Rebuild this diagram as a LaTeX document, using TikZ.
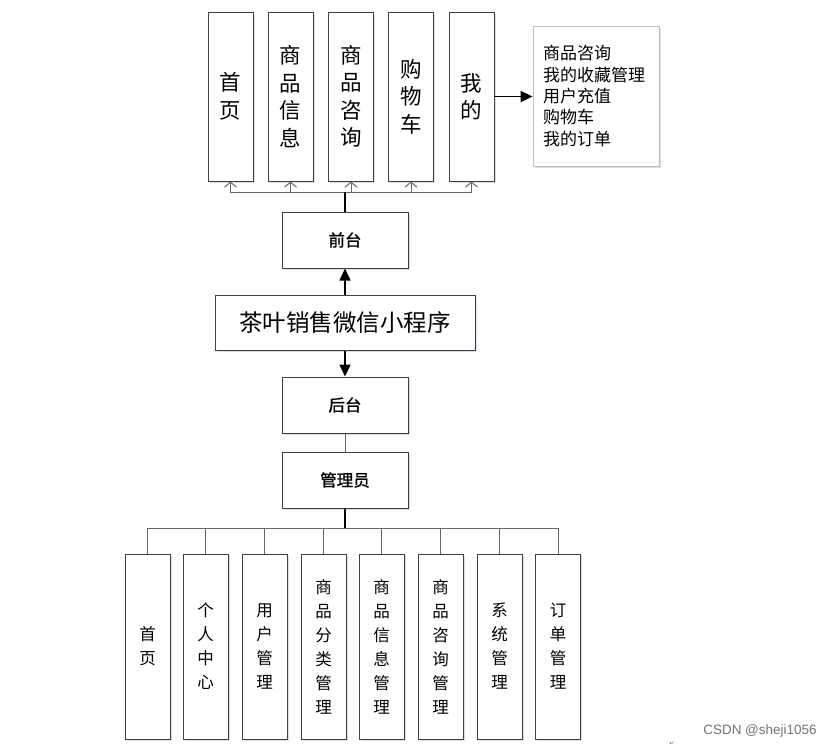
\documentclass[tikz,border=0pt]{standalone}
\usepackage{fontspec}
\usepackage{tikz}
\usetikzlibrary{arrows.meta,shadows}
\setmainfont{Liberation Sans}
\newfontfamily\cjk{Noto Sans CJK SC}
\newfontfamily\cjkb{Noto Sans CJK SC}[FakeBold=1.2]
\newfontfamily\symfont{DejaVu Sans}

\begin{document}
\begin{tikzpicture}[x=1pt, y=-1pt, every node/.style={font=\cjk},
	>={Triangle[length=12pt,width=11pt]},
	box/.style={draw=black!75, line width=1pt, fill=white, drop shadow={shadow xshift=1.5pt, shadow yshift=-1.5pt, fill=blue!40!gray, opacity=0.2}},
	topcol/.style={box, minimum width=45pt, minimum height=169pt, inner sep=0pt, align=center, font=\cjk\fontsize{21.5}{27.5}\selectfont},
	botcol/.style={box, minimum width=45pt, minimum height=185pt, inner sep=0pt, align=center, font=\cjk\fontsize{16.5}{24}\selectfont},
	label/.style={box, minimum width=126pt, minimum height=56pt, font=\cjkb\fontsize{16.5}{20}\selectfont},
	graylink/.style={draw=black!60, line width=1pt}]
	\useasboundingbox (0,0) rectangle (835,748);
	% main box and front / back
	\node[box, minimum width=260pt, minimum height=55pt, font=\cjk\fontsize{23.5}{28}\selectfont] (app) at (345,322.5) {茶叶销售微信小程序};
	\node[label] (front) at (345,240) {前台};
	\node[label] (back) at (345,405) {后台};
	\node[label] (admin) at (345,480) {管理员};
	\draw[->, line width=1.5pt] (app.north) -- (front.south);
	\draw[->, line width=1.5pt] (app.south) -- (back.north);
	\draw[graylink] (back.south) -- (admin.north);
	% front modules
	\node[topcol] (t1) at (230.5,96.5) {首\\页};
	\node[topcol] (t2) at (290.5,96.5) {商\\品\\信\\息};
	\node[topcol] (t3) at (351,96.5) {商\\品\\咨\\询};
	\node[topcol] (t4) at (411,96.5) {购\\物\\车};
	\node[topcol] (t5) at (471.5,96.5) {我\\的};
	\coordinate (tbus) at (345,192);
	\foreach \i in {1,...,5}
		\draw[graylink, -{Straight Barb[length=5pt,width=12pt]}] (tbus) -| (t\i.south);
	\draw[line width=1.5pt] (front.north) -- (tbus);
	\node[draw=black!25, fill=white, line width=0.8pt, drop shadow={shadow xshift=1.5pt, shadow yshift=-1.5pt, fill=blue!40!gray, opacity=0.2}, minimum height=140pt, text width=106pt, inner xsep=10pt, align=left, font=\cjk\fontsize{17}{21.3}\selectfont] (mine) at (596,96) {商品咨询\\我的收藏管理\\用户充值\\购物车\\我的订单};
	\draw[->, line width=1.5pt] (t5.east) -- (t5.east -| mine.west);
	% back modules
	\node[botcol] (b1) at (147.5,646.5) {首\\页};
	\node[botcol] (b2) at (205.5,646.5) {个\\人\\中\\心};
	\node[botcol] (b3) at (264.5,646.5) {用\\户\\管\\理};
	\node[botcol] (b4) at (323.5,646.5) {商\\品\\分\\类\\管\\理};
	\node[botcol] (b5) at (381.5,646.5) {商\\品\\信\\息\\管\\理};
	\node[botcol] (b6) at (440.5,646.5) {商\\品\\咨\\询\\管\\理};
	\node[botcol] (b7) at (499.5,646.5) {系\\统\\管\\理};
	\node[botcol] (b8) at (558,646.5) {订\\单\\管\\理};
	\coordinate (bbus) at (345,528);
	\foreach \i in {1,...,8}
		\draw[graylink] (bbus) -| (b\i.north);
	\draw[line width=1.5pt] (admin.south) -- (bbus);
	% watermark
	\node[font=\fontsize{13.5}{16}\selectfont, text=black!55] (mark) at (760,731) {CSDN @sheji1056};
	\node[font=\symfont\fontsize{6}{7}\selectfont, text=black!60] (ret) at (672,744) {↵};
\end{tikzpicture}
\end{document}
